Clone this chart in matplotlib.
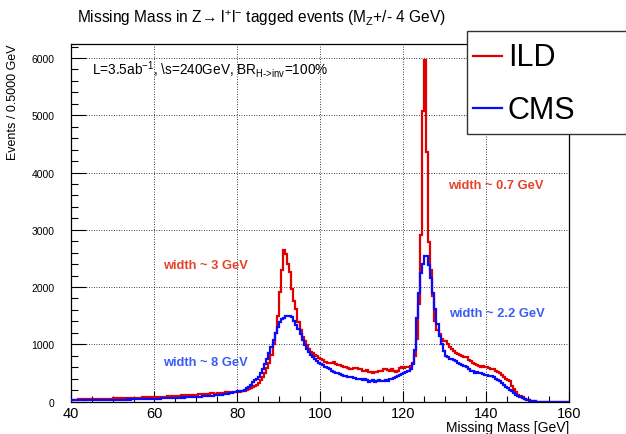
import numpy as np
import matplotlib
matplotlib.use("Agg")
import matplotlib.pyplot as plt
from matplotlib.patches import Rectangle
from matplotlib.lines import Line2D
from matplotlib.ticker import MultipleLocator

plt.rcParams["font.family"] = ["Liberation Sans", "DejaVu Sans"]
plt.rcParams["mathtext.fontset"] = "custom"
plt.rcParams["mathtext.rm"] = "Liberation Sans"
plt.rcParams["mathtext.it"] = "Liberation Sans:italic"
plt.rcParams["mathtext.bf"] = "Liberation Sans:bold"

# bin edges, 0.5 GeV bins from 40 to 160
edges = np.arange(40.0, 160.01, 0.5)

# ILD (red) events per bin, split by mass range
ild_40_60 = [30, 35, 32, 38, 36, 40, 34, 42, 38, 40, 44, 40, 46, 42, 48, 45, 50, 47, 52, 49,
             54, 50, 56, 53, 58, 55, 60, 57, 62, 59, 64, 66, 62, 68, 70, 66, 72, 74, 70, 76]
ild_60_80 = [78, 80, 76, 84, 86, 82, 90, 92, 88, 96, 98, 94, 102, 106, 100, 110, 112, 108, 116, 120,
             118, 124, 128, 122, 132, 136, 130, 140, 144, 138, 148, 152, 146, 156, 160, 154, 162, 166, 160, 168]
ild_80_100 = [165, 170, 175, 185, 200, 215, 235, 255,
              270, 290, 330, 380, 430, 500, 580, 680, 820, 1000, 1200, 1500,
              1910, 2290, 2640, 2580, 2400, 2260, 1960, 1760, 1610, 1390,
              1250, 1130, 1050, 980, 920, 870, 850, 820, 790, 760]
ild_100_121 = [740, 720, 690, 680, 680, 670, 690, 660, 640, 630, 620, 610, 600, 590, 570, 560, 580, 590, 575, 560,
               540, 530, 550, 520, 510, 500, 510, 520, 540, 530, 560, 570, 550, 540, 560, 540, 520, 540, 580, 600,
               590, 610]
ild_121_130 = [600, 620, 680, 800, 1100, 1700, 2900, 5080, 5970, 4350, 2780, 2300, 1850, 1400, 1250, 1175, 1100, 1060]
ild_130_160 = [1050, 1000, 950, 910, 880, 850, 830, 820, 790, 780, 770, 720, 700, 680, 660, 640, 620, 610, 620, 610,
               600, 580, 570, 560, 540, 520, 500, 470, 430, 390, 370, 360, 270, 210, 160, 120, 95, 70, 45, 35,
               20, 12, 6, 3, 0, 0, 0, 0, 0, 0, 0, 0, 0, 0, 0, 0, 0, 0, 0, 0]

# CMS (blue) events per bin
cms_40_60 = [20, 22, 21, 24, 23, 25, 22, 26, 24, 27, 26, 28, 27, 29, 28, 30, 29, 31, 30, 32,
             31, 33, 32, 34, 33, 35, 34, 36, 35, 37, 38, 40, 39, 42, 41, 44, 43, 46, 45, 48]
cms_60_80 = [50, 52, 51, 55, 54, 58, 57, 61, 60, 64, 63, 67, 66, 70, 69, 74, 73, 78, 77, 82,
             81, 86, 85, 90, 90, 95, 95, 100, 100, 106, 108, 114, 118, 124, 130, 136, 142, 150, 158, 168]
cms_80_100 = [180, 180, 190, 200, 230, 260, 290, 340,
              370, 390, 430, 500, 560, 650, 750, 850, 960, 1080, 1200, 1300,
              1390, 1440, 1460, 1490, 1500, 1500, 1480, 1410, 1340, 1270,
              1180, 1080, 980, 920, 860, 820, 780, 740, 710, 680]
cms_100_121 = [650, 630, 600, 580, 560, 540, 520, 500, 490, 480, 465, 450, 440, 430, 420, 420, 410, 400, 395, 385,
               380, 390, 370, 345, 360, 370, 345, 360, 380, 350, 360, 375, 360, 390, 400, 410, 420, 440, 470, 480,
               500, 520]
cms_121_130 = [530, 560, 650, 900, 1450, 1900, 2250, 2400, 2540, 2550, 2380, 2150, 1900, 1620, 1350, 1150, 1000, 880]
cms_130_160 = [800, 770, 750, 740, 720, 700, 680, 660, 640, 620, 600, 570, 540, 530, 500, 520, 505, 490, 480, 470,
               460, 450, 445, 430, 400, 380, 360, 330, 290, 260, 230, 200, 180, 150, 120, 95, 75, 55, 40, 30,
               18, 10, 5, 2, 0, 0, 0, 0, 0, 0, 0, 0, 0, 0, 0, 0, 0, 0, 0, 0]

ild = np.array(ild_40_60 + ild_60_80 + ild_80_100 + ild_100_121 + ild_121_130 + ild_130_160)
cms = np.array(cms_40_60 + cms_60_80 + cms_80_100 + cms_100_121 + cms_121_130 + cms_130_160)

ild_color = "#e00000"
cms_color = "#0a0aff"

fig = plt.figure(figsize=(6.26, 4.35), dpi=100)
ax = fig.add_axes([0.1139, 0.0747, 0.7955, 0.8225])

ax.stairs(ild, edges, color=ild_color, lw=1.6, zorder=3)
ax.stairs(cms, edges, color=cms_color, lw=1.6, zorder=4)

ax.set_xlim(40, 160)
ax.set_ylim(0, 6250)
ax.xaxis.set_major_locator(MultipleLocator(20))
ax.xaxis.set_minor_locator(MultipleLocator(5))
ax.yaxis.set_major_locator(MultipleLocator(1000))
ax.yaxis.set_minor_locator(MultipleLocator(200))
ax.tick_params(axis="x", which="major", direction="in", length=8, width=0.8, labelsize=10.5, pad=3)
ax.tick_params(axis="x", which="minor", direction="in", length=4, width=0.8)
ax.tick_params(axis="y", which="major", direction="in", length=11, width=0.8, labelsize=7.5, pad=12)
ax.tick_params(axis="y", which="minor", direction="in", length=5, width=0.8)
ax.grid(True, which="major", color="black", linestyle=(0, (1, 2)), lw=0.6, zorder=1)
for s in ax.spines.values():
    s.set_linewidth(0.9)

ax.set_xlabel("Missing Mass [GeV]", loc="right", fontsize=10, labelpad=0)
ax.set_ylabel("Events / 0.5000 GeV", loc="top", fontsize=9, labelpad=9)

fig.text(0.418, 0.959, "Missing Mass in Z\u2192 l$^{+}$l$^{-}$ tagged events (M$_{\\text{Z}}$+/- 4 GeV)",
         ha="center", va="center", fontsize=11.2)

ax.text(45, 5820, r"L=3.5ab$^{-1}$, \s=240GeV, BR$_{\text{H->inv}}$=100%", fontsize=9.8, va="center")
ax.text(130.8, 3790, "width ~ 0.7 GeV", color="#e5432b", fontsize=9.3, fontweight="bold", va="center")
ax.text(62.1, 2386, "width ~ 3 GeV", color="#e5432b", fontsize=9.3, fontweight="bold", va="center")
ax.text(131.0, 1544, "width ~ 2.2 GeV", color="#3b5cf5", fontsize=9.3, fontweight="bold", va="center")
ax.text(62.1, 684, "width ~ 8 GeV", color="#3b5cf5", fontsize=9.3, fontweight="bold", va="center")

# legend box, drawn by hand like the ROOT TLegend
fig.patches.append(Rectangle((0.746, 0.6897), 0.3, 0.2367, transform=fig.transFigure,
                             facecolor="white", edgecolor="#333333", lw=1.0, zorder=10))
fig.lines.append(Line2D([0.7556, 0.8019], [0.869, 0.869], transform=fig.transFigure,
                        color=ild_color, lw=1.6, zorder=11))
fig.lines.append(Line2D([0.7556, 0.8019], [0.7494, 0.7494], transform=fig.transFigure,
                        color=cms_color, lw=1.6, zorder=11))
fig.text(0.8115, 0.8667, "ILD", fontsize=22, va="center", zorder=12)
fig.text(0.8115, 0.7448, "CMS", fontsize=22, va="center", zorder=12)

fig.savefig("out.png", dpi=100)
